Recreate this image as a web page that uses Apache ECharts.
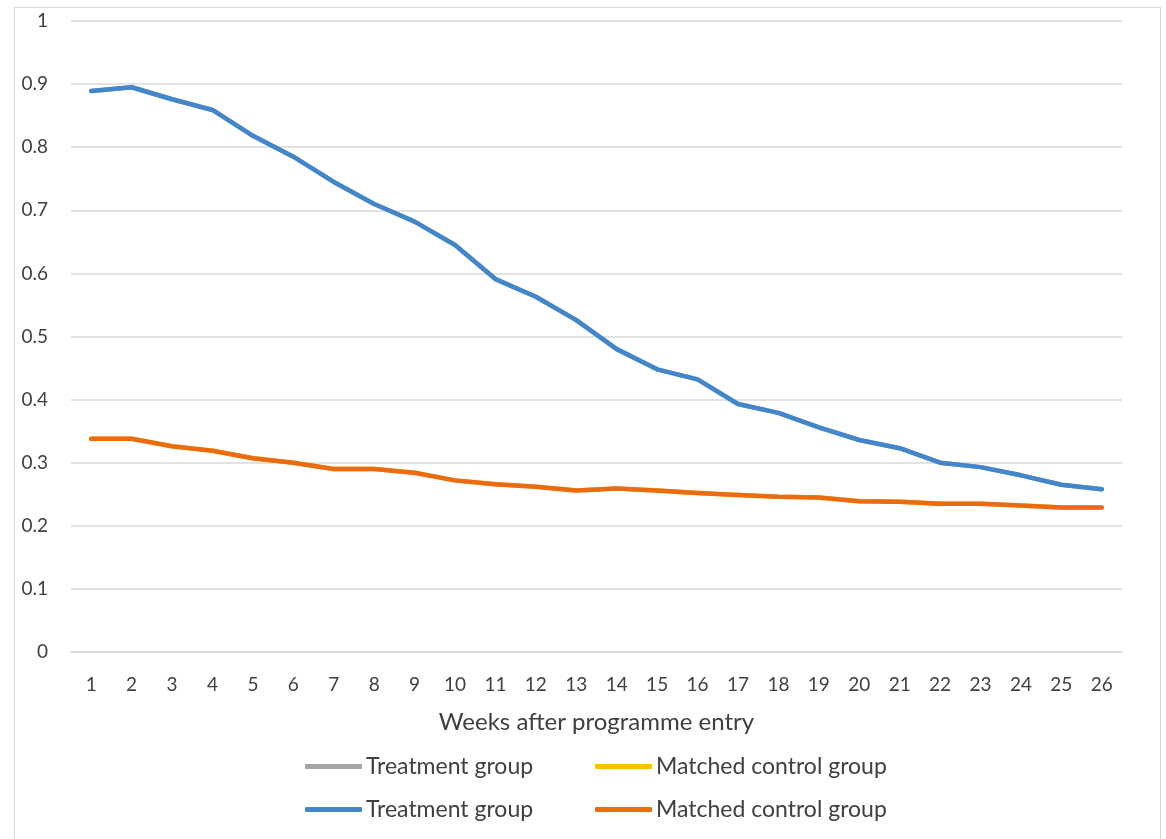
<!DOCTYPE html>
<html>
<head>
<meta charset="utf-8">
<script src="https://cdn.jsdelivr.net/npm/echarts@6/dist/echarts.min.js"></script>
<style>
  html, body { margin: 0; padding: 0; background: #fff; }
  #frame { position: absolute; left: 14px; top: 7px; width: 1147px; height: 840px; border: 1px solid #d9d9d9; box-sizing: border-box; }
  #chart { width: 1166px; height: 839px; position: absolute; left: 0; top: 0; }
</style>
</head>
<body>
<div id="frame"></div>
<div id="chart"></div>
<script>
// Weeks after programme entry
const weeks = ['1','2','3','4','5','6','7','8','9','10','11','12','13','14','15','16','17','18','19','20','21','22','23','24','25','26'];

// Share of each group still observed, by week
const treatment = [0.889, 0.895, 0.876, 0.859, 0.818, 0.785, 0.745, 0.710, 0.682, 0.645, 0.591, 0.563, 0.526, 0.480, 0.448, 0.432, 0.393, 0.379, 0.356, 0.336, 0.323, 0.300, 0.293, 0.280, 0.265, 0.258];
const matchedControl = [0.338, 0.338, 0.326, 0.319, 0.307, 0.300, 0.290, 0.290, 0.284, 0.272, 0.266, 0.262, 0.256, 0.259, 0.256, 0.252, 0.249, 0.246, 0.245, 0.239, 0.238, 0.235, 0.235, 0.232, 0.229, 0.229];

const yTicks = [0, 0.1, 0.2, 0.3, 0.4, 0.5, 0.6, 0.7, 0.8, 0.9, 1];

const FONT = 'Lato';
const chart = echarts.init(document.getElementById('chart'), null, { renderer: 'canvas' });

function lineSeries(name, data, color, z) {
  return {
    name: name,
    type: 'line',
    data: data,
    symbol: 'none',
    z: z,
    lineStyle: { color: color, width: 4.5, cap: 'round', join: 'round' },
    itemStyle: { color: color }
  };
}

function legendAt(name, left, top) {
  return {
    data: [name],
    left: left,
    top: top,
    icon: 'roundRect',
    itemWidth: 57,
    itemHeight: 5,
    itemGap: 0,
    padding: 0,
    textStyle: { fontFamily: FONT, fontSize: 23, color: '#404040', padding: [0, 0, 0, -1] }
  };
}

chart.setOption({
  animation: false,
  backgroundColor: 'transparent',
  grid: { left: 71, right: 44, top: 21, bottom: 187, containLabel: false },
  legend: [
    legendAt('Treatment group ', 305, 755),
    legendAt('Matched control group ', 595, 755),
    legendAt('Treatment group', 305, 798),
    legendAt('Matched control group', 595, 798)
  ],
  xAxis: {
    type: 'category',
    data: weeks,
    boundaryGap: true,
    name: 'Weeks after programme entry',
    nameLocation: 'middle',
    nameGap: 58,
    nameTextStyle: { fontFamily: FONT, fontSize: 24, color: '#404040' },
    axisLine: { show: true, lineStyle: { color: '#d9d9d9', width: 1.5 } },
    axisTick: { show: false },
    axisLabel: { fontFamily: FONT, fontSize: 19, color: '#404040', margin: 23 },
    splitLine: { show: false }
  },
  yAxis: {
    type: 'value',
    min: yTicks[0],
    max: yTicks[yTicks.length - 1],
    interval: 0.1,
    axisLine: { show: false },
    axisTick: { show: false },
    axisLabel: {
      fontFamily: FONT, fontSize: 19, color: '#404040', margin: 23,
      formatter: function (v) { return String(Math.round(v * 10) / 10); }
    },
    splitLine: { lineStyle: { color: '#d9d9d9', width: 1.5 } }
  },
  series: [
    lineSeries('Treatment group ', treatment, '#a5a5a5', 1),
    lineSeries('Matched control group ', matchedControl, '#ffc000', 1),
    lineSeries('Treatment group', treatment, '#4286cc', 3),
    lineSeries('Matched control group', matchedControl, '#ea6b12', 3)
  ]
});
</script>
</body>
</html>
